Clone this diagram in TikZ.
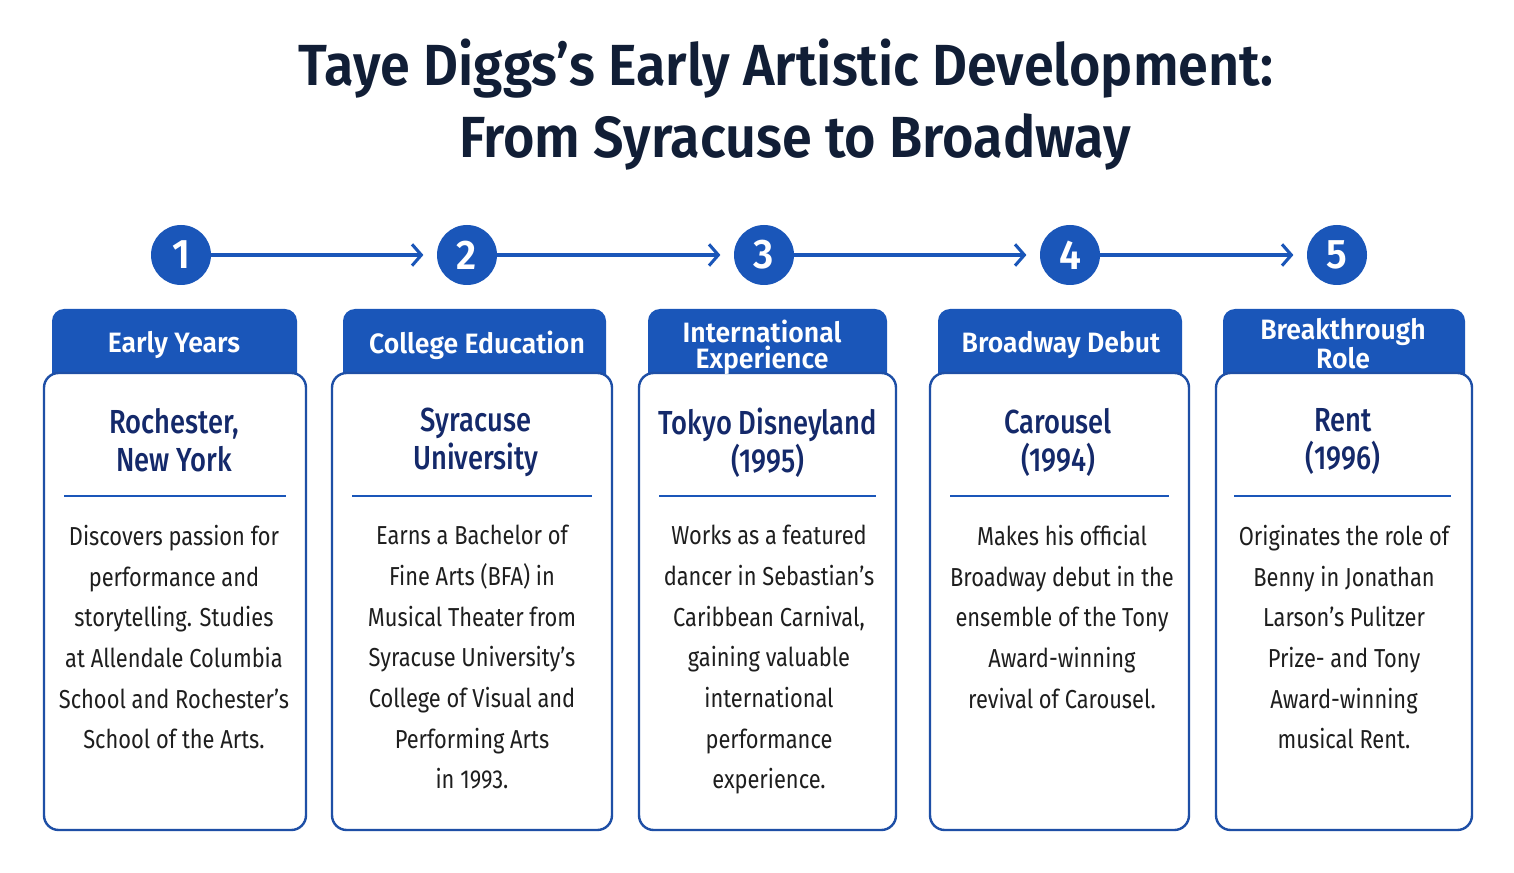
\documentclass[tikz,border=0pt]{standalone}
\usepackage{fontspec}
\setmainfont{Fira Sans}
\newfontfamily\titlefont[FakeStretch=0.93]{Fira Sans SemiBold}
\newfontfamily\tabfont[FakeStretch=0.95]{Fira Sans SemiBold}
\newfontfamily\placefont[FakeStretch=0.82]{Fira Sans Medium}
\newfontfamily\bodyfont[FakeStretch=0.84]{Fira Sans}
\usetikzlibrary{arrows.meta}
\definecolor{tabblue}{HTML}{1A56B9}
\definecolor{edgeblue}{HTML}{1E4FA6}
\definecolor{titlenavy}{HTML}{111E36}
\definecolor{placenavy}{HTML}{14296A}
\definecolor{bodygray}{HTML}{1E1E1E}
\tikzset{
  titletext/.style={anchor=base, inner sep=0pt, text=titlenavy, font=\titlefont\fontsize{43.5}{54}\selectfont},
  stepnum/.style={circle, fill=tabblue, minimum size=45pt, inner sep=0pt, text=white, font=\tabfont\fontsize{31}{31}\selectfont},
  linkarrow/.style={draw=tabblue, line width=2.3pt, -{Straight Barb[length=7pt,width=16pt]}, shorten >=10pt},
  tabbox/.style={fill=tabblue, rounded corners=9pt},
  cardbox/.style={draw=edgeblue, line width=1.8pt, fill=white, rounded corners=11pt},
  tabtext/.style={anchor=north, inner sep=0pt, align=center, text=white, font=\tabfont\fontsize{21}{19}\selectfont},
  placetext/.style={anchor=north, inner sep=0pt, align=center, text=placenavy, font=\placefont\fontsize{25}{28.5}\selectfont},
  bodytext/.style={anchor=north, inner sep=0pt, align=center, text=bodygray, font=\bodyfont\fontsize{19.5}{30.5}\selectfont},
  rule/.style={draw=tabblue, line width=1.8pt}
}
\begin{document}
\begin{tikzpicture}[x=0.75pt,y=-0.75pt]
  % Page frame
  \fill[white] (0,0) rectangle (1514,873);
  \useasboundingbox (0,0) rectangle (1514,873);

  % Title
  \node[titletext] (title1) at (786,86) {Taye Diggs’s Early Artistic Development:};
  \node[titletext] (title2) at (795,158) {From Syracuse to Broadway};

  % Numbered steps
  \node[stepnum] (n1) at (181,255) {1};
  \node[stepnum] (n2) at (467,255) {2};
  \node[stepnum] (n3) at (764,255) {3};
  \node[stepnum] (n4) at (1070,255) {4};
  \node[stepnum] (n5) at (1337,255) {5};

  % Arrows between steps
  \draw[linkarrow] (n1) -- (n2);
  \draw[linkarrow] (n2) -- (n3);
  \draw[linkarrow] (n3) -- (n4);
  \draw[linkarrow] (n4) -- (n5);

  % Header tabs
  \fill[tabbox] (52,309) rectangle (297,392);
  \fill[tabbox] (343,309) rectangle (606,392);
  \fill[tabbox] (648,309) rectangle (887,392);
  \fill[tabbox] (938,309) rectangle (1182,392);
  \fill[tabbox] (1223,309) rectangle (1465,392);

  % Cards
  \draw[cardbox] (44,373) rectangle (306,830);
  \draw[cardbox] (332,373) rectangle (612,830);
  \draw[cardbox] (639,373) rectangle (896,830);
  \draw[cardbox] (930,373) rectangle (1189,830);
  \draw[cardbox] (1216,373) rectangle (1472,830);

  % Tab labels
  \node[tabtext] (tab1) at (174,331) {Early Years};
  \node[tabtext] (tab2) at (477,331) {College Education};
  \node[tabtext] (tab3) at (762,320) {International\\Experience};
  \node[tabtext] (tab4) at (1061,331) {Broadway Debut};
  \node[tabtext] (tab5) at (1343,318) {Breakthrough\\Role};

  % Places
  \node[placetext] (place1) at (174,408) {Rochester,\\New York};
  \node[placetext] (place2) at (476,408) {Syracuse\\University};
  \node[placetext] (place3) at (768,408) {Tokyo Disneyland\\(1995)};
  \node[placetext] (place4) at (1058,408) {Carousel\\(1994)};
  \node[placetext] (place5) at (1343,408) {Rent\\(1996)};

  % Rules under the places
  \draw[rule] (64,496) -- (286,496);
  \draw[rule] (352,496) -- (592,496);
  \draw[rule] (659,496) -- (876,496);
  \draw[rule] (950,496) -- (1169,496);
  \draw[rule] (1234,496) -- (1451,496);

  % Descriptions
  \node[bodytext] (body1) at (174,525) {Discovers passion for\\performance and\\storytelling. Studies\\at Allendale Columbia\\School and Rochester’s\\School of the Arts.};
  \node[bodytext] (body2) at (472,525) {Earns a Bachelor of\\Fine Arts (BFA) in\\Musical Theater from\\Syracuse University’s\\College of Visual and\\Performing Arts\\in 1993.};
  \node[bodytext] (body3) at (769,525) {Works as a featured\\dancer in Sebastian’s\\Caribbean Carnival,\\gaining valuable\\international\\performance\\experience.};
  \node[bodytext] (body4) at (1062,525) {Makes his official\\Broadway debut in the\\ensemble of the Tony\\Award-winning\\revival of Carousel.};
  \node[bodytext] (body5) at (1344,525) {Originates the role of\\Benny in Jonathan\\Larson’s Pulitzer\\Prize- and Tony\\Award-winning\\musical Rent.};
\end{tikzpicture}
\end{document}
